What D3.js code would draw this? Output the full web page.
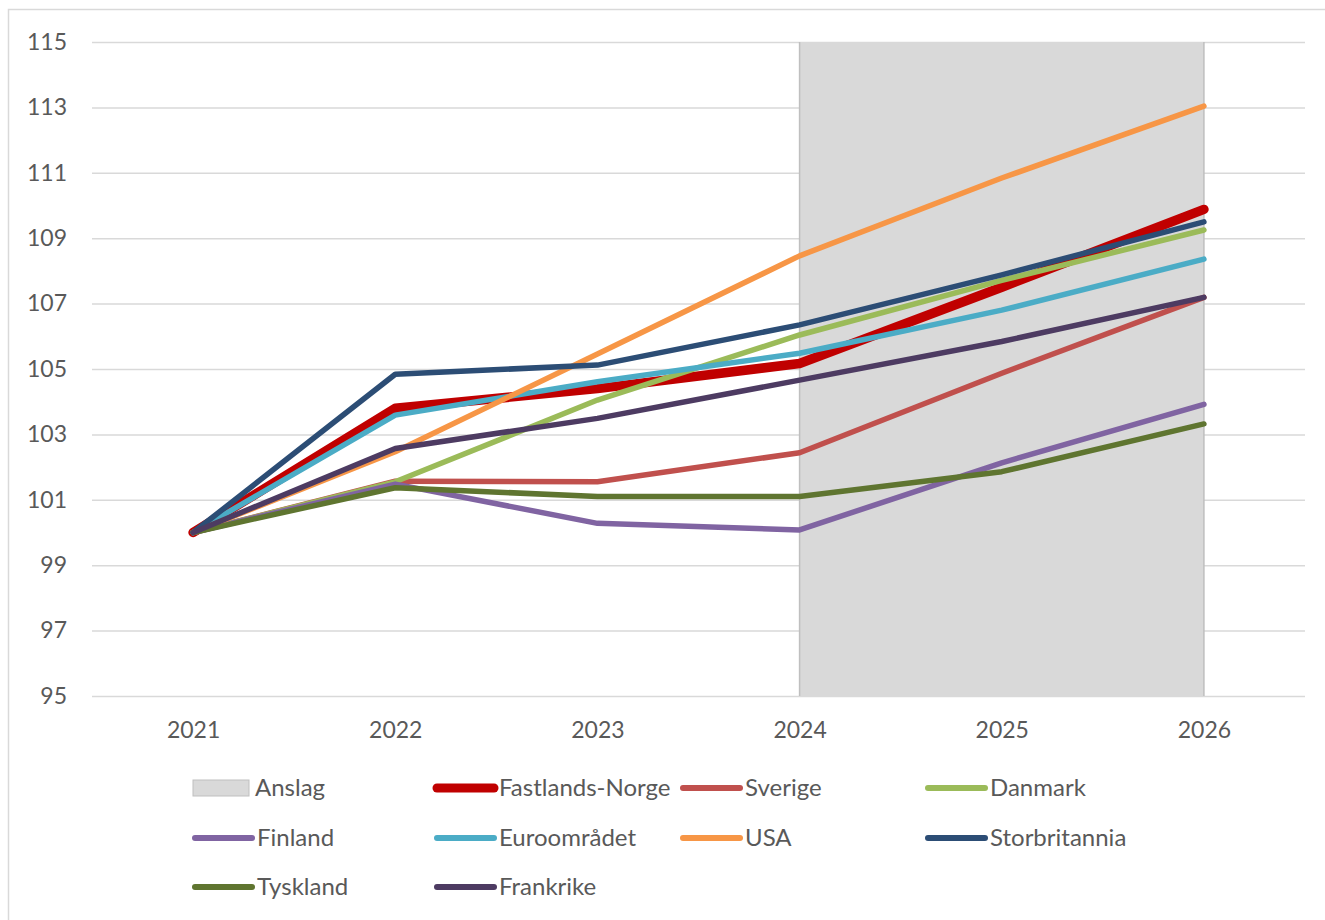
<!DOCTYPE html>
<html>
<head>
<meta charset="utf-8">
<script src="https://cdn.jsdelivr.net/npm/d3@7"></script>
<style>
  body { margin: 0; background: #fff; }
  text { font-family: Lato, "Open Sans", sans-serif; fill: #595959; }
</style>
</head>
<body>
<script>
// years on the x axis, forecast band covers 2024-2026
var years = [2021, 2022, 2023, 2024, 2025, 2026];
var yTicks = [95, 97, 99, 101, 103, 105, 107, 109, 111, 113, 115];
var forecastFrom = 2024, forecastTo = 2026;

// index values (2021 = 100)
var fastlandsNorge = [100, 103.8, 104.4, 105.17, 107.5, 109.88];
var sverige       = [100, 101.57, 101.55, 102.44, 104.87, 107.19];
var danmark       = [100, 101.55, 104.05, 106.04, 107.71, 109.25];
var finland       = [100, 101.48, 100.28, 100.08, 102.13, 103.92];
var euroomradet   = [100, 103.59, 104.61, 105.48, 106.8, 108.36];
var usa           = [100, 102.47, 105.46, 108.46, 110.84, 113.04];
var storbritannia = [100, 104.84, 105.12, 106.35, 107.88, 109.5];
var tyskland      = [100, 101.37, 101.1, 101.1, 101.86, 103.32];
var frankrike     = [100, 102.57, 103.49, 104.66, 105.84, 107.19];

var series = [
    {name: 'Fastlands-Norge', values: fastlandsNorge, color: '#c00000', width: 9.5},
    {name: 'Sverige', values: sverige, color: '#c0504d', width: 5.5},
    {name: 'Danmark', values: danmark, color: '#9bbb59', width: 5.5},
    {name: 'Finland', values: finland, color: '#8064a2', width: 5.5},
    {name: 'Euroområdet', values: euroomradet, color: '#4bacc6', width: 5.5},
    {name: 'USA', values: usa, color: '#f79646', width: 5.5},
    {name: 'Storbritannia', values: storbritannia, color: '#2c4d75', width: 5.5},
    {name: 'Tyskland', values: tyskland, color: '#5f7530', width: 5.5},
    {name: 'Frankrike', values: frankrike, color: '#4d3b62', width: 5.5}
];

var width = 1325, height = 920;
// plot box (note: "top" is taken by window.top, so use plotTop)
var plotLeft = 92, plotRight = 1305, plotTop = 42, plotBottom = 696;

var svg = d3.select('body').append('svg').attr('width', width).attr('height', height);

// chart frame
svg.append('rect').attr('x', 8.5).attr('y', 9.5).attr('width', 1400).attr('height', 1000)
    .attr('fill', 'white').attr('stroke', '#d9d9d9').attr('stroke-width', 1.5);

var x = d3.scalePoint().domain(years).range([plotLeft, plotRight]).padding(0.5);
var y = d3.scaleLinear().domain([95, 115]).range([plotBottom, plotTop]);

// forecast band
svg.append('rect')
    .attr('x', x(forecastFrom)).attr('y', plotTop)
    .attr('width', x(forecastTo) - x(forecastFrom)).attr('height', plotBottom - plotTop)
    .attr('fill', '#d9d9d9');

// gridlines + y labels
var yAxis = svg.append('g').attr('transform', 'translate(' + plotLeft + ',0)')
    .call(d3.axisLeft(y).tickValues(yTicks).tickSize(-(plotRight - plotLeft)).tickPadding(25));
yAxis.select('.domain').remove();
yAxis.selectAll('.tick line').attr('stroke', '#d9d9d9').attr('stroke-width', 1.5);
yAxis.selectAll('.tick text').style('font-size', '23px').attr('fill', '#595959');

[forecastFrom, forecastTo].forEach(function (yr) {
    svg.append('line').attr('x1', x(yr)).attr('x2', x(yr)).attr('y1', plotTop).attr('y2', plotBottom)
        .attr('stroke', '#bfbfbf').attr('stroke-width', 1.5);
});

// x labels
var xAxis = svg.append('g').attr('transform', 'translate(0,' + plotBottom + ')')
    .call(d3.axisBottom(x).tickSize(0).tickPadding(26));
xAxis.select('.domain').remove();
xAxis.selectAll('.tick text').style('font-size', '23px').attr('fill', '#595959');

var line = d3.line()
    .x(function (d, i) { return x(years[i]); })
    .y(function (d) { return y(d); });

svg.selectAll('path.series')
    .data(series)
    .enter()
    .append('path')
    .attr('class', 'series')
    .attr('d', function (d) { return line(d.values); })
    .attr('fill', 'none')
    .attr('stroke', function (d) { return d.color; })
    .attr('stroke-width', function (d) { return d.width; })
    .attr('stroke-linecap', 'round')
    .attr('stroke-linejoin', 'round');

// legend: 4 columns, 3 rows
var legendItems = [{name: 'Anslag', band: true}].concat(series);
var colX = [193, 435, 681, 926];
var rowY = [788, 838, 887];

var legend = svg.selectAll('g.legend')
    .data(legendItems)
    .enter()
    .append('g')
    .attr('class', 'legend')
    .attr('transform', function (d, i) {
        return 'translate(' + colX[i % 4] + ',' + rowY[Math.floor(i / 4)] + ')';
    });

legend.each(function (d) {
    var g = d3.select(this);
    if (d.band) {
        g.append('rect').attr('x', 0).attr('y', -8).attr('width', 56).attr('height', 16)
            .attr('fill', '#d9d9d9').attr('stroke', '#bfbfbf').attr('stroke-width', 1);
        g.append('text').attr('x', 62).attr('y', 8).style('font-size', '24px').text(d.name);
    } else {
        g.append('line').attr('x1', 2).attr('x2', 59).attr('y1', 0).attr('y2', 0)
            .attr('stroke', d.color).attr('stroke-width', d.width > 9 ? 9 : 6)
            .attr('stroke-linecap', 'round');
        g.append('text').attr('x', 64).attr('y', 8).style('font-size', '24px').text(d.name);
    }
});
</script>
</body>
</html>
